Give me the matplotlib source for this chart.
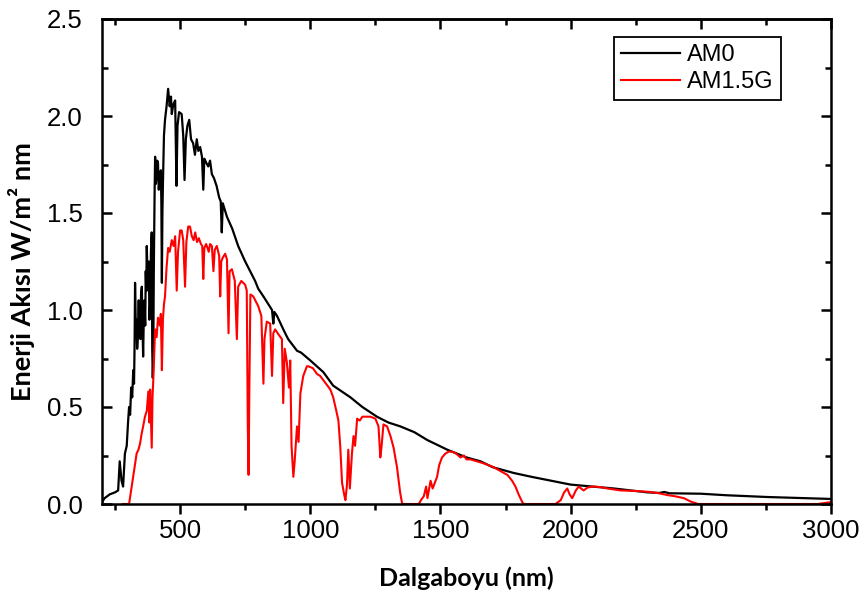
import numpy as np
import matplotlib
matplotlib.use('Agg')
import matplotlib.pyplot as plt
from matplotlib.ticker import MultipleLocator

# AM0 spectrum
am0_wl = [200, 210, 230, 250, 262, 268, 275, 281, 288, 295, 300, 304, 308, 312, 316, 320, 323,
          325, 327, 330, 332, 335, 338, 341, 343, 345, 348, 350, 353, 355, 358, 361, 363, 366,
          368, 370, 372, 375, 378, 380, 382, 385, 388, 391, 393, 395, 397, 399, 402, 404, 407,
          410, 412, 415, 418, 422, 426, 428, 430, 432, 434, 438, 442, 448, 454, 460, 465, 468,
          474, 481, 486, 490, 496, 506, 512, 517, 522, 528, 535, 542, 550, 557, 564, 570, 577,
          584, 589, 593, 600, 608, 615, 622, 630, 640, 650, 656, 660, 664, 680, 700, 723, 750,
          788, 800, 820, 853, 858, 862, 872, 900, 915, 949, 965, 1000, 1050, 1088, 1154, 1200,
          1256, 1300, 1346, 1400, 1449, 1526, 1600, 1654, 1700, 1781, 1850, 1910, 2000, 2100,
          2166, 2230, 2295, 2340, 2360, 2380, 2400, 2500, 2600, 2756, 2900, 3000]
am0_val = [0.01, 0.03, 0.05, 0.06, 0.07, 0.22, 0.12, 0.09, 0.26, 0.30, 0.42, 0.50, 0.46, 0.60,
           0.55, 0.69, 0.62, 0.80, 1.14, 0.90, 0.95, 0.80, 0.86, 1.05, 0.90, 1.00, 0.85, 1.08,
           1.12, 0.95, 0.76, 1.00, 1.05, 0.92, 1.20, 1.10, 1.33, 1.15, 1.10, 1.25, 0.95, 1.03,
           1.30, 1.40, 0.80, 0.65, 0.75, 1.20, 1.60, 1.79, 1.65, 1.70, 1.77, 1.76, 1.62, 1.68,
           1.72, 1.55, 1.14, 1.50, 1.65, 1.90, 1.98, 2.05, 2.14, 2.05, 2.10, 2.01, 2.06, 2.08,
           1.64, 1.95, 2.02, 2.01, 1.90, 1.67, 1.88, 1.95, 1.98, 1.88, 1.86, 1.80, 1.88, 1.82,
           1.84, 1.79, 1.62, 1.78, 1.76, 1.74, 1.77, 1.70, 1.68, 1.64, 1.58, 1.56, 1.40, 1.55,
           1.48, 1.42, 1.33, 1.25, 1.15, 1.11, 1.07, 1.00, 0.93, 0.99, 0.97, 0.89, 0.85, 0.79,
           0.78, 0.74, 0.68, 0.61, 0.55, 0.50, 0.45, 0.42, 0.40, 0.37, 0.33, 0.28, 0.24, 0.22,
           0.19, 0.16, 0.14, 0.124, 0.10, 0.088, 0.08, 0.07, 0.06, 0.057, 0.062, 0.055, 0.055,
           0.053, 0.045, 0.036, 0.03, 0.026]

# AM1.5G spectrum
am15_wl = [280, 304, 315, 325, 333, 340, 346, 352, 358, 365, 372, 378, 382, 385, 391, 394, 397,
           404, 410, 415, 422, 426, 430, 434, 438, 442, 448, 454, 460, 468, 475, 481, 487, 492,
           500, 506, 512, 519, 524, 531, 538, 545, 552, 558, 565, 572, 580, 585, 589, 593, 600,
           610, 615, 622, 628, 633, 641, 650, 654, 658, 664, 673, 680, 686, 690, 699, 710, 718,
           723, 735, 750, 756, 760, 763, 766, 770, 781, 800, 812, 816, 820, 824, 833, 846, 853,
           858, 865, 880, 891, 896, 902, 910, 918, 923, 928, 935, 940, 949, 955, 962, 973, 987,
           992, 1010, 1026, 1038, 1060, 1077, 1088, 1100, 1108, 1115, 1122, 1130, 1135, 1141,
           1146, 1152, 1160, 1166, 1172, 1180, 1190, 1200, 1218, 1231, 1250, 1262, 1269, 1274,
           1281, 1295, 1308, 1320, 1333, 1345, 1353, 1417, 1425, 1436, 1445, 1450, 1462, 1470,
           1487, 1495, 1506, 1519, 1532, 1545, 1560, 1577, 1590, 1600, 1615, 1640, 1665, 1704,
           1730, 1757, 1775, 1788, 1800, 1814, 1820, 1942, 1962, 1975, 1987, 1996, 2006, 2020,
           2031, 2040, 2050, 2065, 2088, 2115, 2141, 2192, 2250, 2308, 2340, 2372, 2400, 2435,
           2462, 2490, 2950, 2975, 3000]
am15_val = [0.0, 0.0, 0.10, 0.19, 0.26, 0.28, 0.31, 0.36, 0.40, 0.45, 0.48, 0.58, 0.42, 0.59,
            0.29, 0.55, 0.64, 0.90, 0.86, 0.96, 0.92, 0.98, 0.69, 0.95, 1.03, 1.07, 1.22, 1.32,
            1.30, 1.36, 1.33, 1.38, 1.10, 1.30, 1.41, 1.41, 1.36, 1.12, 1.35, 1.43, 1.43, 1.38,
            1.36, 1.40, 1.35, 1.37, 1.34, 1.33, 1.16, 1.32, 1.34, 1.30, 1.34, 1.33, 1.20, 1.31,
            1.33, 1.28, 1.07, 1.25, 1.27, 1.29, 1.26, 0.88, 1.20, 1.21, 1.15, 0.85, 1.12, 1.15,
            1.13, 1.10, 0.40, 0.15, 0.60, 1.08, 1.07, 1.02, 0.97, 0.80, 0.62, 0.85, 0.94, 0.93,
            0.66, 0.88, 0.90, 0.87, 0.85, 0.52, 0.80, 0.73, 0.60, 0.74, 0.30, 0.14, 0.22, 0.40,
            0.32, 0.57, 0.66, 0.71, 0.71, 0.70, 0.67, 0.66, 0.62, 0.59, 0.55, 0.48, 0.43, 0.30,
            0.11, 0.05, 0.02, 0.10, 0.28, 0.08, 0.26, 0.35, 0.30, 0.44, 0.43, 0.45, 0.45, 0.45,
            0.44, 0.40, 0.24, 0.30, 0.41, 0.40, 0.35, 0.29, 0.19, 0.06, 0.0, 0.0, 0.02, 0.04,
            0.09, 0.03, 0.12, 0.08, 0.14, 0.20, 0.24, 0.26, 0.27, 0.27, 0.26, 0.24, 0.25, 0.23,
            0.23, 0.22, 0.21, 0.19, 0.17, 0.15, 0.12, 0.09, 0.05, 0.01, 0.0, 0.0, 0.02, 0.06,
            0.08, 0.05, 0.03, 0.07, 0.09, 0.08, 0.07, 0.085, 0.09, 0.087, 0.08, 0.07, 0.067,
            0.062, 0.055, 0.046, 0.04, 0.03, 0.012, 0.0, 0.0, 0.005, 0.01]

x_ticks = [500, 1000, 1500, 2000, 2500, 3000]
y_ticks = [0.0, 0.5, 1.0, 1.5, 2.0, 2.5]

plt.rcParams['font.family'] = ['Liberation Sans', 'DejaVu Sans']

fig = plt.figure(figsize=(8.63, 6.08), dpi=100)
ax = fig.add_axes([102 / 863, 1 - 504 / 608, 729 / 863, 485 / 608])

ax.plot(am0_wl, am0_val, color='black', lw=1.6, label='AM0')
ax.plot(am15_wl, am15_val, color='#ff0000', lw=1.5, label='AM1.5G')

ax.set_xlim(200, 3000)
ax.set_ylim(0, 2.5)
ax.set_xticks(x_ticks)
ax.set_yticks(y_ticks)
ax.set_yticklabels([f'{v:.1f}' for v in y_ticks])
ax.xaxis.set_minor_locator(MultipleLocator(250))
ax.yaxis.set_minor_locator(MultipleLocator(0.25))

for s in ax.spines.values():
    s.set_linewidth(1.8)
ax.tick_params(axis='x', which='both', direction='out', top=False, labelsize=18.5, width=1.8, pad=4)
ax.tick_params(axis='y', which='both', direction='in', right=True, labelsize=18.5, width=1.8, pad=14)
ax.tick_params(which='major', length=7)
ax.tick_params(which='minor', length=4)

# inward ticks along the top spine
sec = ax.secondary_xaxis('top')
sec.set_xticks(x_ticks)
sec.xaxis.set_minor_locator(MultipleLocator(250))
sec.tick_params(which='both', direction='in', labeltop=False, width=1.8)
sec.tick_params(which='major', length=7)
sec.tick_params(which='minor', length=4)
sec.spines['top'].set_linewidth(1.8)

ax.set_xlabel('Dalgaboyu (nm)', family='Lato', fontweight='bold', fontsize=18)
ax.xaxis.set_label_coords(0.5, -0.128)
ax.set_ylabel('Enerji Akısı W/m² nm', family='Lato', fontweight='bold', fontsize=19.5)
ax.yaxis.set_label_coords(-0.092, 0.48)

leg = ax.legend(loc='upper right', bbox_to_anchor=(781 / 863, 1 - 37 / 608),
                bbox_transform=fig.transFigure, borderaxespad=0, fancybox=False,
                edgecolor='black', fontsize=17, handlelength=2.5, framealpha=1,
                borderpad=0.3, labelspacing=0.2, handletextpad=0.3)
leg.get_frame().set_linewidth(1.3)

fig.savefig('out.png', dpi=100)
